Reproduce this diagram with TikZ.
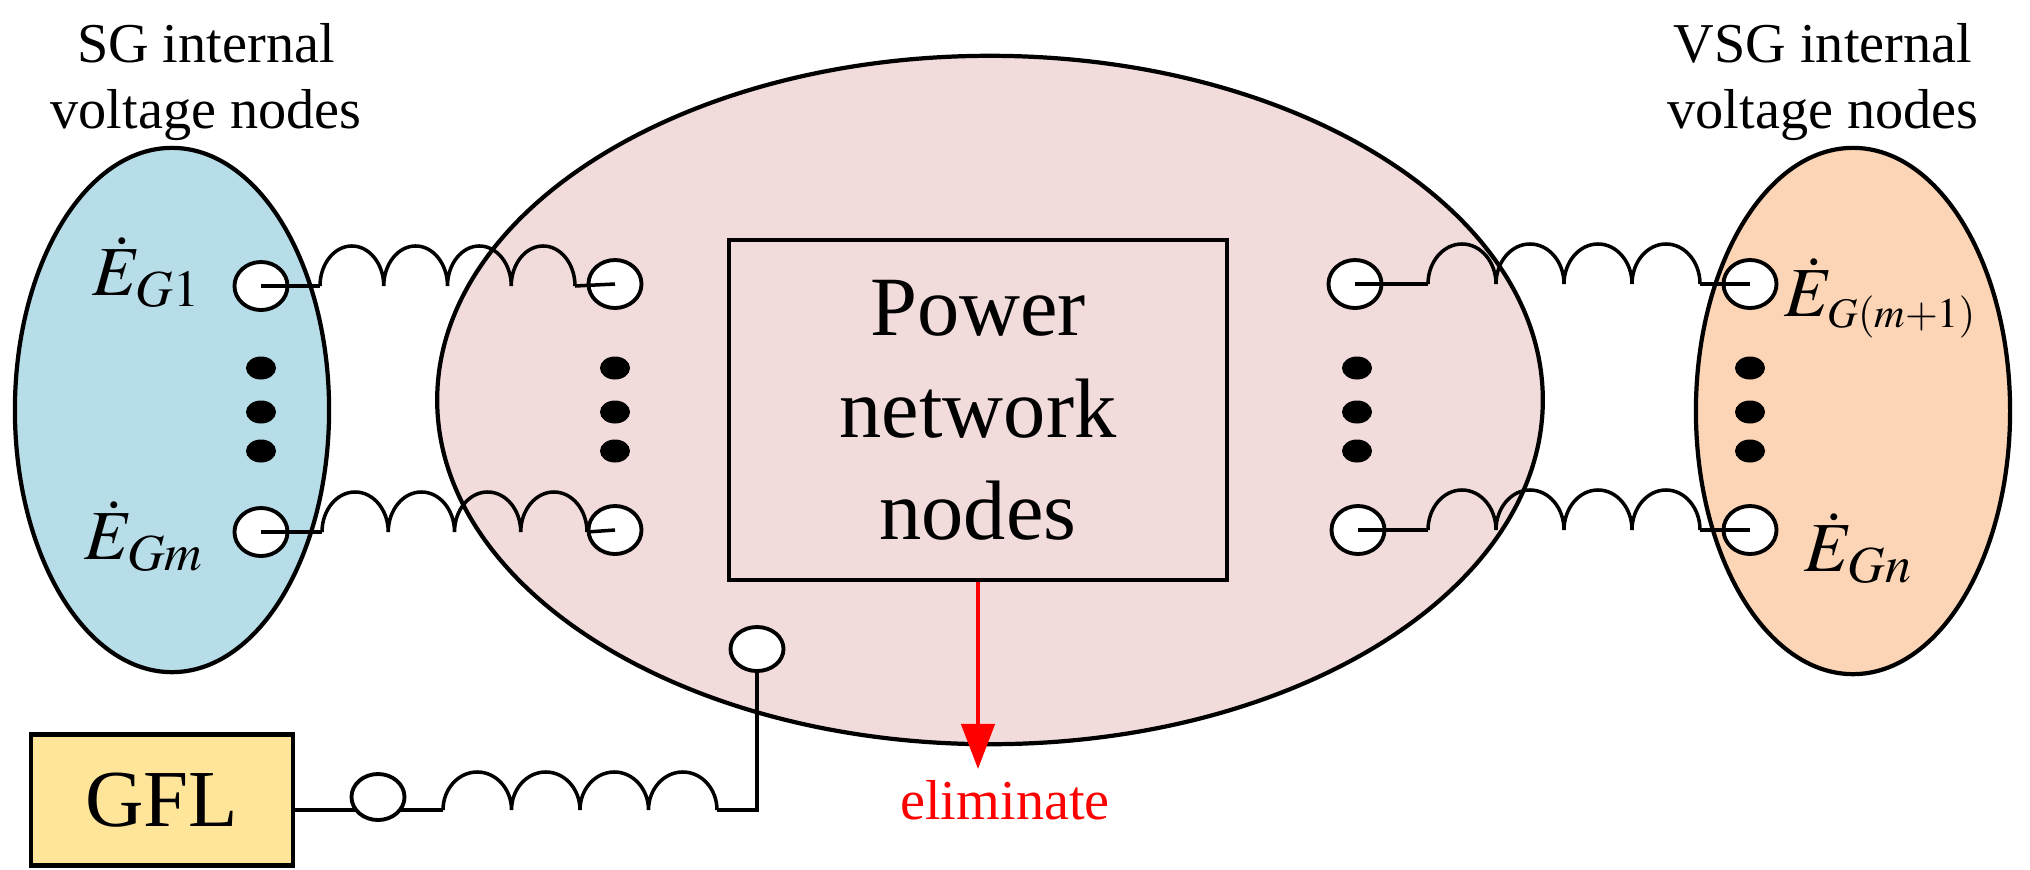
\documentclass[tikz,border=0pt]{standalone}
\usepackage{mathptmx}
\usepackage{fontspec}
\setmainfont{Liberation Serif}
\usepackage{tikz}
\usetikzlibrary{positioning,shapes,arrows.meta,calc}
\definecolor{sgblue}{HTML}{B7DDE8}
\definecolor{netpink}{HTML}{F2DCDB}
\definecolor{vsgorange}{HTML}{FBD5B5}
\definecolor{gflyellow}{HTML}{FEE599}
% a row of four humps between two points on one level
\newcommand{\coil}[3][4mm]{%
  \draw[wire] let \p1=(#2), \p2=(#3), \n1={(\x2-\x1)/8} in (\p1)
    \foreach \k in {1,...,4}{ arc[start angle=180, end angle=0, x radius=\n1, y radius=#1] };
}

\begin{document}
\begin{tikzpicture}[
    x=0.01cm, y=-0.01cm,
    region/.style={draw, ellipse, line width=1.2pt, inner sep=0pt},
    term/.style={draw, ellipse, fill=white, line width=1.1pt, minimum width=5.3mm, minimum height=4.8mm, inner sep=0pt},
    dot/.style={fill, ellipse, minimum width=3mm, minimum height=2.3mm, inner sep=0pt},
    wire/.style={line width=1pt},
    title/.style={font=\fontsize{16}{19}\selectfont, align=center},
    volt/.style={font=\fontsize{20}{24}\selectfont, inner sep=0pt}
  ]
    \useasboundingbox (0,0) rectangle (2030,869);

    \node (sg) [region, fill=sgblue, minimum width=3.14cm, minimum height=5.24cm] at (172,410) {};
    \node (net) [region, fill=netpink, minimum width=11.05cm, minimum height=6.88cm] at (990,400) {};
    \node (vsg) [region, fill=vsgorange, minimum width=3.14cm, minimum height=5.26cm] at (1853,411) {};

    \node (sg-title) [title] at (206,82) {SG internal\\voltage nodes};
    \node (vsg-title) [title] at (1823,82) {VSG internal\\voltage nodes};

    \node (pnet) [draw, line width=1.1pt, minimum width=4.97cm, minimum height=3.4cm, align=center,
      font=\fontsize{24}{29}\selectfont] at (978,410) {Power\\network\\nodes};

    % terminals
    \node (sg-1) [term] at (261,286) {};
    \node (sg-m) [term] at (261,532) {};
    \node (net-l1) [term] at (615,284) {};
    \node (net-lm) [term] at (615,530) {};
    \node (net-r1) [term] at (1355,284) {};
    \node (net-rn) [term] at (1358,530) {};
    \node (vsg-1) [term] at (1750,284) {};
    \node (vsg-n) [term] at (1750,530) {};

    \foreach \x/\n in {261/sg, 615/netl, 1357/netr, 1750/vsg}
      \foreach \y [count=\i] in {368,412,451}
        \node (\n-dot\i) [dot] at (\x,\y) {};

    \node (lbl-1) [volt, anchor=east] at (202,272) {$\dot{E}_{G1}$};
    \node (lbl-m) [volt, anchor=east] at (205,536) {$\dot{E}_{Gm}$};
    \node (lbl-m1) [volt, anchor=west] at (1784,298) {$\dot{E}_{\scriptscriptstyle G(m+1)}$};
    \node (lbl-n) [volt, anchor=west] at (1804,548) {$\dot{E}_{Gn}$};

    % left branches
    \coordinate (c1a) at (320,286);
    \coordinate (c1b) at (575,286);
    \coordinate (cma) at (322,532);
    \coordinate (cmb) at (587,532);
    \draw[wire] (sg-1.center) -- (c1a);
    \coil{c1a}{c1b}
    \draw[wire] (c1b) -- (net-l1.center);
    \draw[wire] (sg-m.center) -- (cma);
    \coil{cma}{cmb}
    \draw[wire] (cmb) -- (net-lm.center);

    % right branches
    \coordinate (r1a) at (1428,284);
    \coordinate (r1b) at (1700,284);
    \coordinate (rna) at (1428,530);
    \coordinate (rnb) at (1700,530);
    \draw[wire] (net-r1.center) -- (r1a);
    \coil{r1a}{r1b}
    \draw[wire] (r1b) -- (vsg-1.center);
    \draw[wire] (net-rn.center) -- (rna);
    \coil{rna}{rnb}
    \draw[wire] (rnb) -- (vsg-n.center);

    % grid-following unit
    \node (gfl) [draw, line width=1.2pt, fill=gflyellow, minimum width=2.62cm, minimum height=1.31cm,
      font=\fontsize{23}{27}\selectfont] at (162,800) {GFL};
    \coordinate (ga) at (443,810);
    \coordinate (gb) at (717,810);
    \node (net-b) [term, minimum height=4.4mm] at (757,649) {};
    \draw[wire] (gfl.east |- ga) -- (ga);
    \node (gfl-t) [term, minimum height=4.6mm] at (378,797) {};
    \coil[3.8mm]{ga}{gb}
    \draw[wire] (gb) -| (net-b.south);

    \node (elim) [red, font=\fontsize{16}{19}\selectfont] at (1005,800) {eliminate};
    \coordinate (elim-tip) at (pnet.south |- 0,769);
    \draw[red, line width=1.3pt, -{Triangle[width=3.3mm,length=4.5mm]}] (pnet.south) -- (elim-tip);
\end{tikzpicture}
\end{document}
